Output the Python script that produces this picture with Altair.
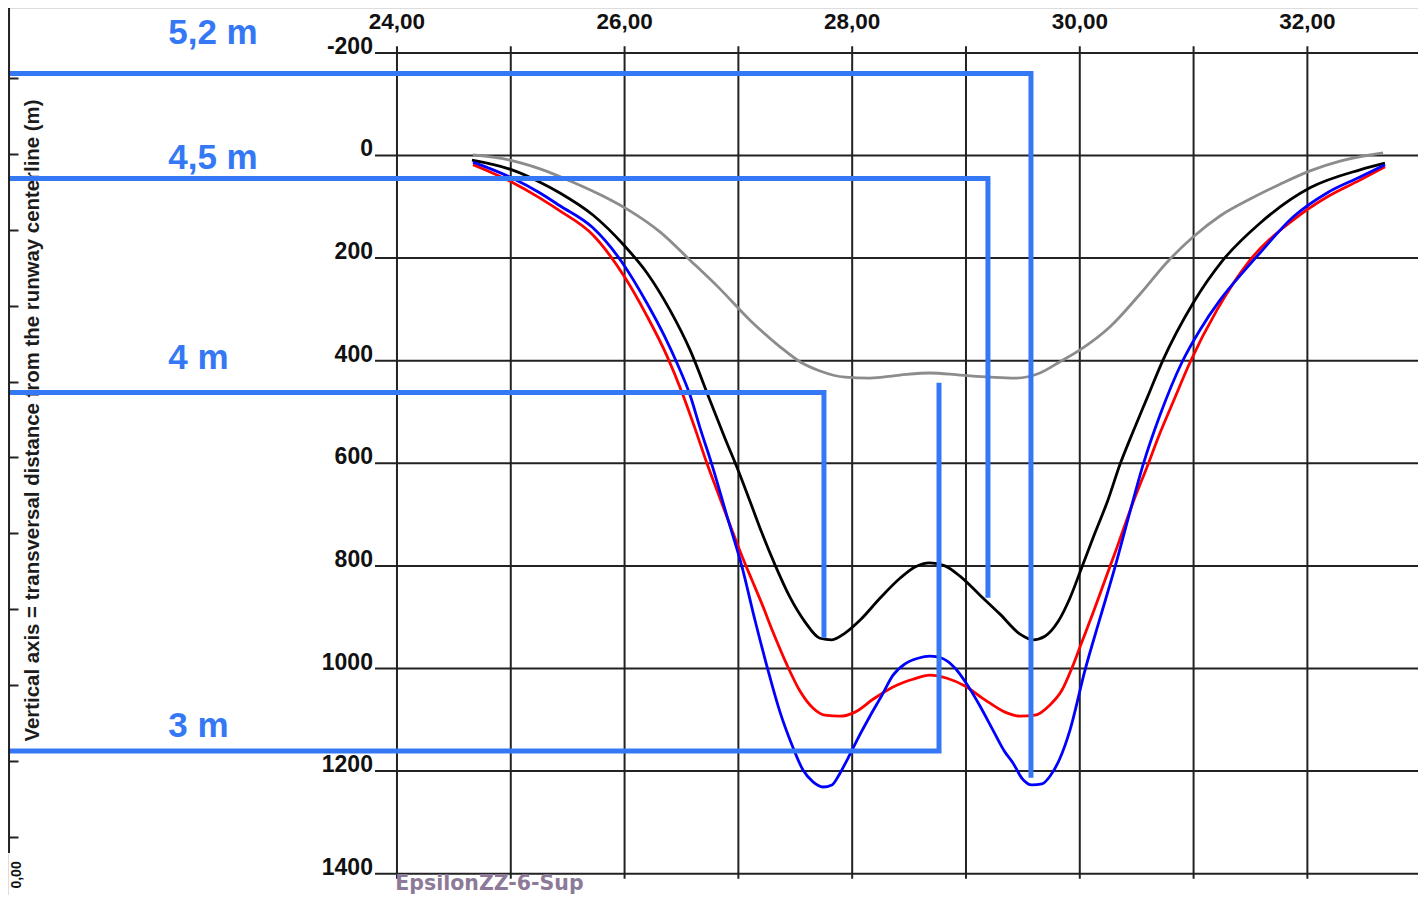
import altair as alt
import pandas as pd

# ---------------- grid / tick values ----------------
x_grid = [24, 25, 26, 27, 28, 29, 30, 31, 32, 33]
y_grid = [-200, 0, 200, 400, 600, 800, 1000, 1200, 1400]
x_label_values = [24, 26, 28, 30, 32]
x_label_text = ["24,00", "26,00", "28,00", "30,00", "32,00"]
y_label_text = ["-200", "0", "200", "400", "600", "800", "1000", "1200", "1400"]

# ---------------- curves ----------------
gray_x = [24.668, 24.993, 25.257, 25.547, 25.810, 26.047, 26.311, 26.575, 26.838, 27.102, 27.366,
          27.541, 27.717, 27.937, 28.156, 28.420, 28.683, 28.947, 29.211, 29.431, 29.650, 29.826,
          30.002, 30.266, 30.530, 30.767, 30.995, 31.232, 31.496, 31.760, 32.023, 32.287, 32.665]
gray_y = [-1, 9, 26, 52, 79, 108, 149, 204, 260, 321, 373,
          402, 420, 432, 434, 428, 424, 428, 432, 434, 424, 402,
          379, 334, 270, 208, 159, 118, 85, 56, 30, 11, -5]

black_x = [24.659, 25.011, 25.257, 25.432, 25.722, 25.995, 26.197, 26.398, 26.575, 26.750, 26.882,
           26.997, 27.102, 27.207, 27.322, 27.453, 27.585, 27.717, 27.822, 27.937, 28.068, 28.244,
           28.420, 28.552, 28.683, 28.815, 28.947, 29.123, 29.299, 29.475, 29.589, 29.694, 29.808,
           29.913, 30.019, 30.133, 30.247, 30.352, 30.467, 30.591, 30.731, 30.995, 31.258, 31.583,
           32.023, 32.462, 32.682]
black_y = [9, 28, 52, 73, 116, 175, 229, 301, 379, 477, 551,
           613, 674, 736, 798, 861, 909, 941, 944, 931, 906, 863,
           824, 802, 794, 800, 820, 857, 894, 933, 944, 937, 909,
           863, 802, 736, 672, 603, 539, 473, 399, 288, 204, 132,
           63, 28, 15]

red_x = [24.668, 25.011, 25.257, 25.432, 25.722, 25.995, 26.197, 26.373, 26.503, 26.617, 26.722,
         26.838, 26.943, 27.032, 27.120, 27.207, 27.304, 27.427, 27.541, 27.655, 27.761, 27.893,
         28.025, 28.183, 28.359, 28.534, 28.683, 28.833, 28.991, 29.167, 29.343, 29.475, 29.606,
         29.738, 29.844, 29.931, 30.019, 30.116, 30.221, 30.335, 30.467, 30.591, 30.705, 30.819,
         30.969, 31.206, 31.496, 31.874, 32.172, 32.462, 32.682]
red_y = [18, 52, 83, 108, 155, 235, 313, 391, 461, 531, 599,
         668, 730, 781, 828, 874, 929, 993, 1044, 1077, 1091, 1093,
         1085, 1060, 1036, 1021, 1013, 1019, 1034, 1061, 1085, 1093, 1091,
         1071, 1042, 999, 948, 892, 828, 759, 677, 607, 541, 481,
         403, 301, 204, 126, 81, 48, 22]

blue_x = [24.668, 25.011, 25.257, 25.432, 25.722, 25.977, 26.197, 26.355, 26.469, 26.575, 26.663,
          26.768, 26.900, 27.032, 27.146, 27.260, 27.366, 27.471, 27.568, 27.656, 27.743, 27.822,
          27.893, 27.963, 28.051, 28.156, 28.262, 28.359, 28.464, 28.578, 28.684, 28.789, 28.903,
          29.018, 29.123, 29.237, 29.343, 29.413, 29.492, 29.580, 29.668, 29.738, 29.826, 29.914,
          30.046, 30.178, 30.310, 30.433, 30.556, 30.705, 30.898, 31.056, 31.232, 31.452, 31.583,
          31.874, 32.172, 32.462, 32.682]
blue_y = [13, 44, 73, 98, 141, 208, 288, 354, 409, 467, 531,
          603, 703, 802, 906, 1003, 1085, 1149, 1198, 1221, 1231, 1227,
          1204, 1175, 1136, 1093, 1052, 1013, 991, 980, 976, 980, 999,
          1034, 1073, 1120, 1163, 1184, 1214, 1227, 1225, 1210, 1175, 1120,
          1003, 902, 802, 701, 603, 506, 403, 340, 282, 223, 190,
          120, 73, 42, 18]

# ---------------- annotations (blue) ----------------
annot_label = ["5,2 m", "4,5 m", "4 m", "3 m"]
annot_level = [-160, 45, 462, 1161]
annot_x_end = [29.571, 29.193, 27.752, 28.763]
annot_y_end = [1213, 862, 940, 443]
annot_label_y = [-218, 27, 417, 1133]
annot_label_x = 21.99
annot_x_start = 20.4

footer_text = "EpsilonZZ-6-Sup"
footer_x = 23.985
footer_y = 1431.8

# left ruler (secondary axis with its own scale)
ruler_ticks = [0, 1, 2, 3, 4, 5, 6, 7, 8, 9, 10]
ruler_bottom = -0.21
ruler_top = 11.0
ruler_label = "0,00"
ruler_label_r = -0.5
ruler_label_x = 20.657
ruler_x = 20.591
ruler_title = "Vertical axis = transversal distance from the runway centerline (m)"

# ---------------- layout ----------------
W, H = 1410, 887
X_DOMAIN = [20.582, 32.972]
Y_DOMAIN = [-287.5, 1441.5]
R_DOMAIN = [-0.764, 10.922]

# grid extents (ticks overhang the grid a little)
vgrid_top, vgrid_bottom = -213, 1410
hgrid_left, hgrid_right = 23.807, 33.1
x_label_y = -247.5
y_label_x = 23.789

BLUE_ANN = "#3478F6"
GRID = "#222222"
LABEL_FONT = "Liberation Sans"

xs = alt.Scale(domain=X_DOMAIN, nice=False, zero=False)
ys = alt.Scale(domain=Y_DOMAIN, nice=False, zero=False, reverse=True)
rs = alt.Scale(domain=R_DOMAIN, nice=False, zero=False)


def X(field="x"):
    return alt.X(f"{field}:Q", scale=xs, axis=None)


def Y(field="y"):
    return alt.Y(f"{field}:Q", scale=ys, axis=None)


# grid
vgrid = alt.Chart(pd.DataFrame({"x": x_grid, "y": vgrid_top, "y2": vgrid_bottom})).mark_rule(
    color=GRID, strokeWidth=2
).encode(x=X(), y=Y(), y2="y2:Q")
hgrid = alt.Chart(pd.DataFrame({"y": y_grid, "x": hgrid_left, "x2": hgrid_right})).mark_rule(
    color=GRID, strokeWidth=2
).encode(x=X(), x2="x2:Q", y=Y())

# tick labels
x_labels = alt.Chart(pd.DataFrame({"x": x_label_values, "y": x_label_y, "t": x_label_text})).mark_text(
    font=LABEL_FONT, fontSize=22.5, fontWeight="bold", color="#111111", align="center", baseline="alphabetic"
).encode(x=X(), y=Y(), text="t:N")
y_labels = alt.Chart(pd.DataFrame({"x": y_label_x, "y": y_grid, "t": y_label_text})).mark_text(
    font=LABEL_FONT, fontSize=23, fontWeight="bold", color="#111111", align="right", baseline="alphabetic",
    dy=1
).encode(x=X(), y=Y(), text="t:N")


def curve(xv, yv, color):
    return alt.Chart(pd.DataFrame({"x": xv, "y": yv})).mark_line(
        color=color, strokeWidth=2.8, interpolate="monotone"
    ).encode(x=X(), y=Y(), order="x:Q")


gray = curve(gray_x, gray_y, "#8c8c8c")
black = curve(black_x, black_y, "#000000")
red = curve(red_x, red_y, "#ff0000")
blue = curve(blue_x, blue_y, "#0000ff")

# annotation polylines
rows = []
for i, lab in enumerate(annot_label):
    rows.append({"id": lab, "o": 0, "x": annot_x_start, "y": annot_level[i]})
    rows.append({"id": lab, "o": 1, "x": annot_x_end[i], "y": annot_level[i]})
    rows.append({"id": lab, "o": 2, "x": annot_x_end[i], "y": annot_y_end[i]})
ann_lines = alt.Chart(pd.DataFrame(rows)).mark_line(
    color=BLUE_ANN, strokeWidth=5, strokeJoin="miter", strokeCap="butt"
).encode(x=X(), y=Y(), detail="id:N", order="o:Q")
ann_text = alt.Chart(pd.DataFrame({"t": annot_label, "x": annot_label_x, "y": annot_label_y})).mark_text(
    color=BLUE_ANN, font=LABEL_FONT, fontSize=35, fontWeight="bold", align="left", baseline="alphabetic"
).encode(x=X(), y=Y(), text="t:N")
footer = alt.Chart(pd.DataFrame({"t": [footer_text], "x": [footer_x], "y": [footer_y]})).mark_text(
    color="#8d7a99", font="DejaVu Sans", fontSize=20.5, fontWeight="bold", align="left", baseline="alphabetic"
).encode(x=X(), y=Y(), text="t:N")

main = alt.layer(vgrid, hgrid, x_labels, y_labels, gray, black, red, blue, ann_lines, ann_text, footer)

# left ruler with its own scale and axis (ticks + rotated title)
ruler_axis = alt.Axis(
    orient="right", offset=-(W - 1), values=ruler_ticks,
    tickSize=9, tickWidth=2, tickColor=GRID, domain=False, grid=False, labels=False,
    title=ruler_title, titleAngle=270, titleX=29, titleY=412, titleAlign="center",
    titleBaseline="alphabetic", titleFont=LABEL_FONT, titleFontSize=20.4,
    titleFontWeight="bold", titleColor="#1c1c1c",
)
ruler_line = alt.Chart(pd.DataFrame({"x": [ruler_x], "r": [ruler_bottom], "r2": [ruler_top]})).mark_rule(
    color=GRID, strokeWidth=2
).encode(
    x=X(),
    y=alt.Y("r:Q", scale=rs, axis=ruler_axis),
    y2="r2:Q",
)
ruler_text = alt.Chart(pd.DataFrame({"t": [ruler_label], "x": [ruler_label_x], "r": [ruler_label_r]})).mark_text(
    color="#111111", font=LABEL_FONT, fontSize=14, fontWeight="bold", angle=270,
    align="center", baseline="middle"
).encode(
    x=X(),
    y=alt.Y("r:Q", scale=rs, axis=ruler_axis),
    text="t:N",
)
ruler = alt.layer(ruler_line, ruler_text)

chart = alt.layer(main, ruler).resolve_scale(y="independent").properties(
    width=W, height=H, padding=0, autosize=alt.AutoSizeParams(type="none")
).configure_view(strokeWidth=0).configure(background="white")

chart.save("out.html", embed_options={"renderer": "svg", "actions": False})
